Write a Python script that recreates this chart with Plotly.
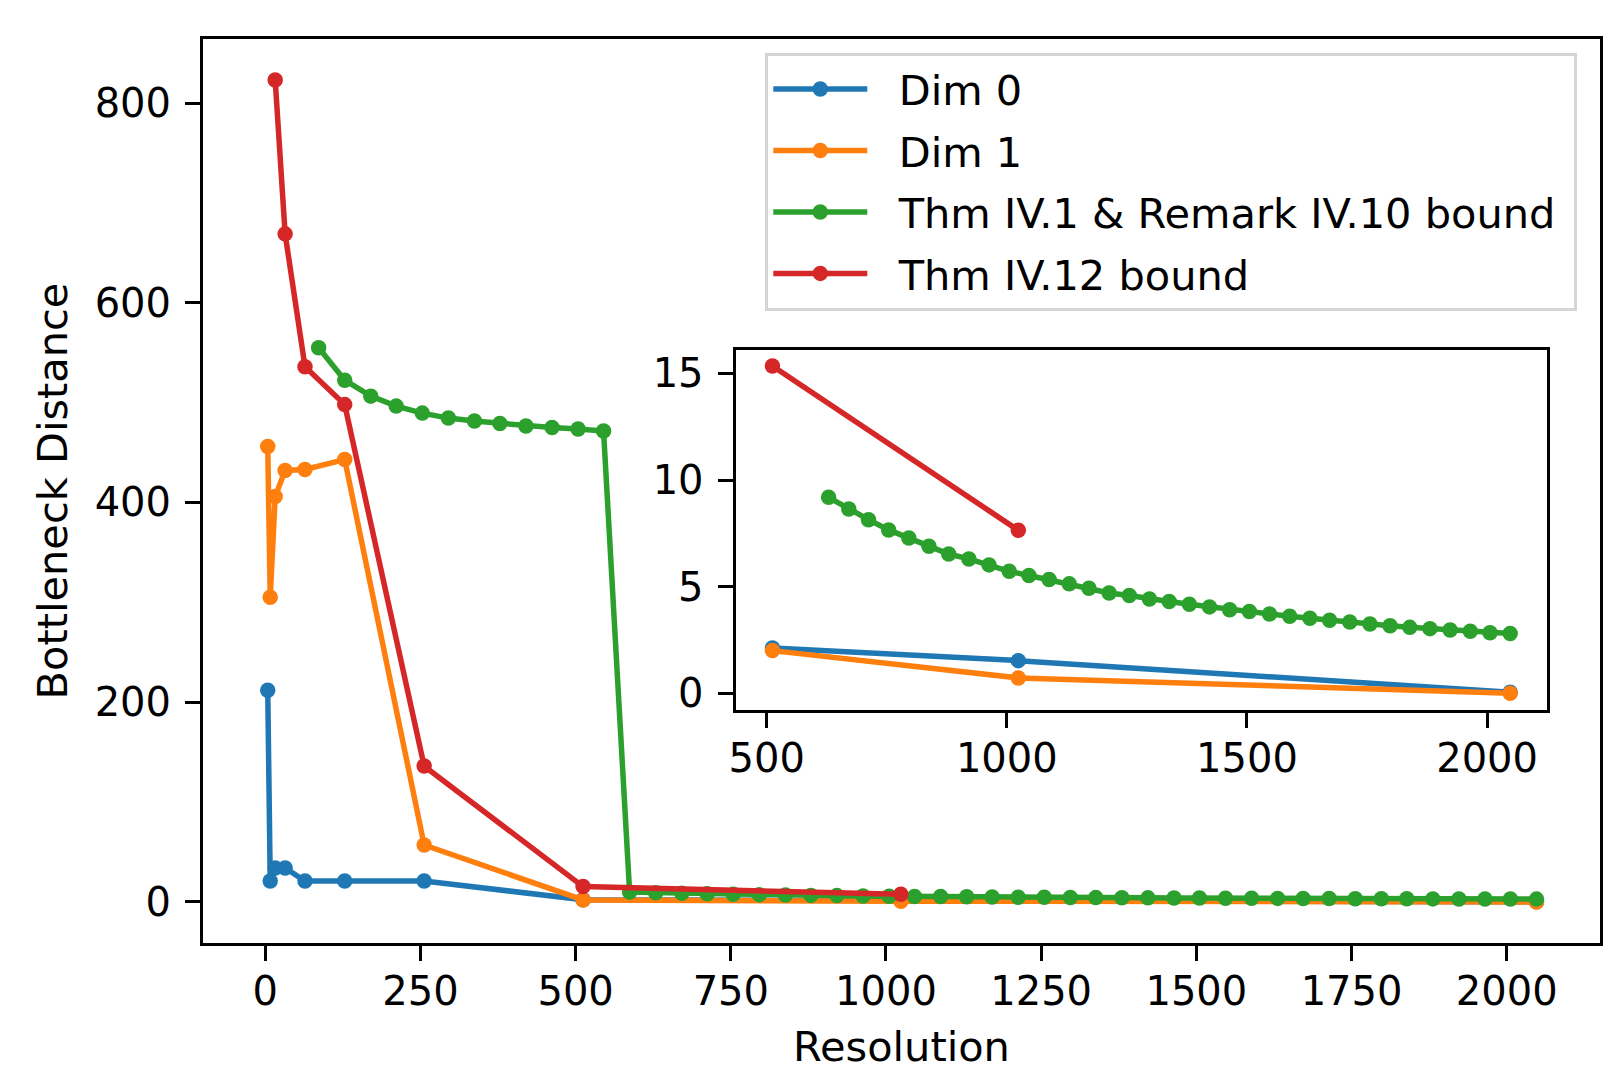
import plotly.graph_objects as go

# resolutions for the measured diagrams
resolution = [4, 8, 16, 32, 64, 128, 256, 512, 1024, 2048]
dim0 = [212, 21, 34, 34, 21, 21, 21, 2.12, 1.53, 0.05]
dim1 = [456, 305, 406, 432, 433, 443, 57, 2.0, 0.72, 0.0]

# Thm IV.12 bound
red_res = [16, 32, 64, 128, 256, 512, 1024]
red_bound = [823, 669, 536, 498, 136, 15.35, 7.64]

# Thm IV.1 & Remark IV.10 bound
green_res = [86, 128, 170, 211, 253, 295, 337, 378, 420, 462, 504, 545,
             587, 629, 671, 712, 754, 796, 838, 879, 921, 963, 1005, 1046,
             1088, 1130, 1171, 1213, 1255, 1297, 1338, 1380, 1422, 1464,
             1505, 1547, 1589, 1631, 1672, 1714, 1756, 1798, 1839, 1881,
             1923, 1965, 2006, 2048]
green_bound = [555, 522.5, 506.5, 496.5, 489.5, 484.5, 481.5, 479, 476.5,
               475, 473.5, 471.5, 9.8, 9.19, 8.64, 8.14, 7.66, 7.28, 6.89,
               6.53, 6.30, 6.02, 5.72, 5.52, 5.33, 5.13, 4.92, 4.70, 4.58,
               4.42, 4.30, 4.17, 4.05, 3.92, 3.83, 3.72, 3.61, 3.52, 3.42,
               3.34, 3.25, 3.17, 3.09, 3.03, 2.97, 2.91, 2.84, 2.80]

# inset only shows resolution >= 512 (green after the drop)
green_start = green_res.index(629)

series = [
    ("Dim 0", "#1f77b4", resolution, dim0, 7),
    ("Dim 1", "#ff7f0e", resolution, dim1, 7),
    ("Thm IV.1 & Remark IV.10 bound\u00a0", "#2ca02c", green_res, green_bound, green_start),
    ("Thm IV.12 bound", "#d62728", red_res, red_bound, 5),
]

gap = "\u00a0\u00a0"  # space between legend line and text

fig = go.Figure()

for name, color, xs, ys, start in series:
    fig.add_trace(go.Scatter(
        x=xs, y=ys, name=gap + name, mode="lines+markers", legendgroup=name,
        line=dict(color=color, width=5.5),
        marker=dict(color=color, size=15.5),
    ))

for name, color, xs, ys, start in series:
    fig.add_trace(go.Scatter(
        x=xs[start:], y=ys[start:], name=name, mode="lines+markers",
        line=dict(color=color, width=5.5),
        marker=dict(color=color, size=15.5),
        xaxis="x2", yaxis="y2", showlegend=False,
    ))

axis_style = dict(
    showline=True, linewidth=3, linecolor="black", mirror=True,
    ticks="outside", ticklen=15, tickwidth=3, tickcolor="black",
    showgrid=False, zeroline=False,
)

fig.update_layout(
    width=1620, height=1091,
    margin=dict(l=195, r=28, t=31, b=156),
    paper_bgcolor="white", plot_bgcolor="white",
    font=dict(family="DejaVu Sans", size=40, color="black"),
    xaxis=dict(domain=[0, 1], range=[-100.3, 2150.3],
               tickvals=[0, 250, 500, 750, 1000, 1250, 1500, 1750, 2000],
               ticklabelstandoff=-4,
               title=dict(text="Resolution", standoff=19, font=dict(size=41.5)),
               **axis_style),
    yaxis=dict(domain=[0, 1], range=[-41.15, 864.15],
               tickvals=[0, 200, 400, 600, 800], ticklabelstandoff=6,
               title=dict(text="Bottleneck Distance", standoff=15, font=dict(size=41.5)),
               **axis_style),
    xaxis2=dict(domain=[0.3812, 0.9621], anchor="y2", range=[435.2, 2124.8],
                tickvals=[500, 1000, 1500, 2000], ticklabelstandoff=-4,
                **axis_style),
    yaxis2=dict(domain=[0.2581, 0.6565], anchor="x2", range=[-0.77, 16.12],
                tickvals=[0, 5, 10, 15], ticklabelstandoff=6, **axis_style),
    legend=dict(x=0.4025, y=0.985, xanchor="left", yanchor="top",
                bgcolor="white", bordercolor="#d5d5d5", borderwidth=3,
                font=dict(size=41.5), itemwidth=94,
                traceorder="grouped", tracegroupgap=4.5),
    showlegend=True,
)

fig.write_html("out.html")
